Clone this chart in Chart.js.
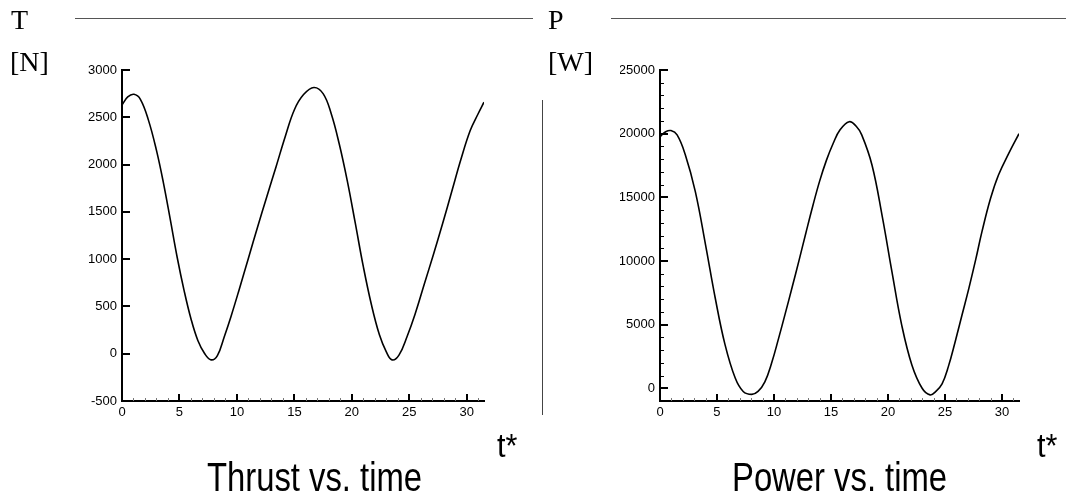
<!DOCTYPE html>
<html>
<head>
<meta charset="utf-8">
<script src="https://cdn.jsdelivr.net/npm/chart.js@4/dist/chart.umd.min.js"></script>
<style>
  html, body { margin:0; padding:0; background:#fff; }
  body { width:1066px; height:494px; position:relative; overflow:hidden; }
  canvas { position:absolute; top:0; }
  .serif { position:absolute; font-family:'Liberation Serif','Times New Roman',serif; font-size:28px; line-height:28px; color:#000; white-space:nowrap; }
  .sans { position:absolute; font-family:'Liberation Sans',Arial,sans-serif; color:#000; white-space:nowrap; transform-origin:0 0; }
  .hl { position:absolute; height:1px; background:#555; }
  .vl { position:absolute; width:1px; background:#444; }
</style>
</head>
<body>
<canvas id="c1" width="540" height="494" style="left:0;width:540px;height:494px"></canvas>
<canvas id="c2" width="526" height="494" style="left:540px;width:526px;height:494px"></canvas>

<div class="hl" style="left:75px;top:18px;width:458px"></div>
<div class="hl" style="left:611px;top:18px;width:455px"></div>
<div class="vl" style="left:542px;top:100px;height:315px"></div>

<div class="serif" style="left:11px;top:6px">T</div>
<div class="serif" style="left:10px;top:48px">[N]</div>
<div class="serif" style="left:548px;top:6px">P</div>
<div class="serif" style="left:548px;top:48px">[W]</div>

<div class="sans" style="left:497px;top:428px;font-size:34px;line-height:34px;transform:scaleX(0.9)">t*</div>
<div class="sans" style="left:1037px;top:428px;font-size:34px;line-height:34px;transform:scaleX(0.9)">t*</div>
<div class="sans" style="left:207px;top:457px;font-size:40px;line-height:40px;transform:scaleX(0.82)">Thrust vs. time</div>
<div class="sans" style="left:732px;top:457px;font-size:40px;line-height:40px;transform:scaleX(0.82)">Power vs. time</div>

<script>
// ---- data ----
const thrustTime = [0, 0.5, 1.04, 1.6, 2.3, 3.0, 3.6, 4.2, 4.8, 5.4, 6.0, 6.6, 7.2, 7.75, 8.3, 8.9, 9.5, 10.2, 11.0, 11.8, 12.6, 13.4, 14.2, 15.0, 15.8, 16.7, 17.5, 18.2, 18.9, 19.6, 20.3, 21.0, 21.7, 22.4, 23.0, 23.5, 24.1, 24.8, 25.5, 26.3, 27.1, 27.9, 28.7, 29.5, 30.3, 31.0, 31.5];
const thrustValues = [2630, 2715, 2743, 2690, 2470, 2150, 1810, 1420, 1020, 670, 370, 140, 0, -65, -20, 180, 400, 680, 1010, 1340, 1660, 1975, 2295, 2580, 2740, 2815, 2750, 2540, 2220, 1830, 1380, 920, 520, 200, 20, -65, -15, 180, 418, 734, 1050, 1377, 1717, 2058, 2360, 2540, 2660];

const powerTime = [0, 0.5, 0.96, 1.5, 2.2, 3.1, 4.0, 4.85, 5.7, 6.6, 7.3, 8.05, 8.6, 9.2, 9.8, 10.4, 11.0, 11.6, 12.2, 12.8, 13.4, 14.0, 14.6, 15.2, 15.8, 16.6, 17.2, 17.7, 18.6, 19.5, 20.35, 21.2, 22.1, 23.0, 23.7, 24.2, 24.75, 25.3, 25.9, 26.5, 27.1, 27.7, 28.25, 29.0, 29.7, 30.6, 31.5];
const powerValues = [19750, 20150, 20240, 19900, 18400, 15450, 11250, 7070, 3450, 800, -250, -480, -250, 500, 2000, 3900, 5900, 7950, 10050, 12200, 14300, 16250, 17900, 19250, 20300, 20940, 20600, 19900, 17540, 13500, 9160, 5000, 1830, 0, -520, -250, 350, 1700, 3660, 5750, 7850, 10100, 12300, 14900, 16750, 18450, 20000];

const timeTicks = [0, 5, 10, 15, 20, 25, 30];
const timeMinorTicks = [1,2,3,4,6,7,8,9,11,12,13,14,16,17,18,19,21,22,23,24,26,27,28,29,31];
const thrustTicks = [-500, 0, 500, 1000, 1500, 2000, 2500, 3000];
const powerTicks = [0, 5000, 10000, 15000, 20000, 25000];
const powerMinorTicks = [1000,2000,3000,4000,6000,7000,8000,9000,11000,12000,13000,14000,16000,17000,18000,19000,21000,22000,23000,24000];

// ---- helpers ----
const tickFont = { family: "'Liberation Sans', Arial, sans-serif", size: 13 };

const innerTicks = {
  id: 'innerTicks',
  afterDraw(chart, args, o) {
    const { ctx, chartArea: a, scales: { x, y } } = chart;
    ctx.save();
    ctx.strokeStyle = '#000';
    const seg = (x1, y1, x2, y2, w) => { ctx.lineWidth = w; ctx.beginPath(); ctx.moveTo(x1, y1); ctx.lineTo(x2, y2); ctx.stroke(); };
    (o.yMajor || []).forEach(v => { const p = Math.round(y.getPixelForValue(v)); seg(a.left, p, a.left + 8, p, 2); });
    (o.yMinor || []).forEach(v => { const p = Math.round(y.getPixelForValue(v)) + 0.5; seg(a.left, p, a.left + 4, p, 1); });
    (o.xMajor || []).forEach(v => { const p = Math.round(x.getPixelForValue(v)); if (v > 0) seg(p, a.bottom, p, a.bottom - 7, 2); });
    ctx.strokeStyle = '#777';
    (o.xMinor || []).forEach(v => { const p = Math.round(x.getPixelForValue(v)) + 0.5; seg(p, a.bottom, p, a.bottom - 3, 1); });
    ctx.restore();
  }
};

function makeChart(id, times, values, yMin, yMax, yTicks, yMinor, pad) {
  const pts = times.map((t, i) => ({ x: t, y: values[i] }));
  return new Chart(document.getElementById(id), {
    type: 'line',
    data: { datasets: [{ data: pts, borderColor: '#000', borderWidth: 1.6, pointRadius: 0, fill: false, tension: 0.4 }] },
    plugins: [innerTicks],
    options: {
      responsive: false, animation: false, devicePixelRatio: 1,
      layout: { padding: pad },
      plugins: { legend: { display: false }, tooltip: { enabled: false }, title: { display: false },
        innerTicks: { yMajor: yTicks, yMinor: yMinor, xMajor: timeTicks, xMinor: timeMinorTicks } },
      scales: {
        x: {
          type: 'linear', min: 0, max: 31.5,
          afterBuildTicks: s => { s.ticks = timeTicks.map(v => ({ value: v })); },
          afterFit: s => { s.height = 20; },
          grid: { display: false, drawTicks: false },
          border: { display: true, color: '#000', width: 2 },
          ticks: { font: tickFont, color: '#000', padding: 4, maxRotation: 0, callback: v => String(v) }
        },
        y: {
          type: 'linear', min: yMin, max: yMax,
          afterBuildTicks: s => { s.ticks = yTicks.map(v => ({ value: v })); },
          afterFit: s => { s.width = 40; },
          grid: { display: false, drawTicks: false },
          border: { display: true, color: '#000', width: 2 },
          ticks: { font: tickFont, color: '#000', padding: 5, callback: v => String(v) }
        }
      }
    }
  });
}

makeChart('c1', thrustTime, thrustValues, -500, 3000, thrustTicks, [], { left: 82, right: 56, top: 70, bottom: 73 });
makeChart('c2', powerTime, powerValues, -1000, 25000, powerTicks, powerMinorTicks, { left: 80, right: 47, top: 70, bottom: 73 });
</script>
</body>
</html>
